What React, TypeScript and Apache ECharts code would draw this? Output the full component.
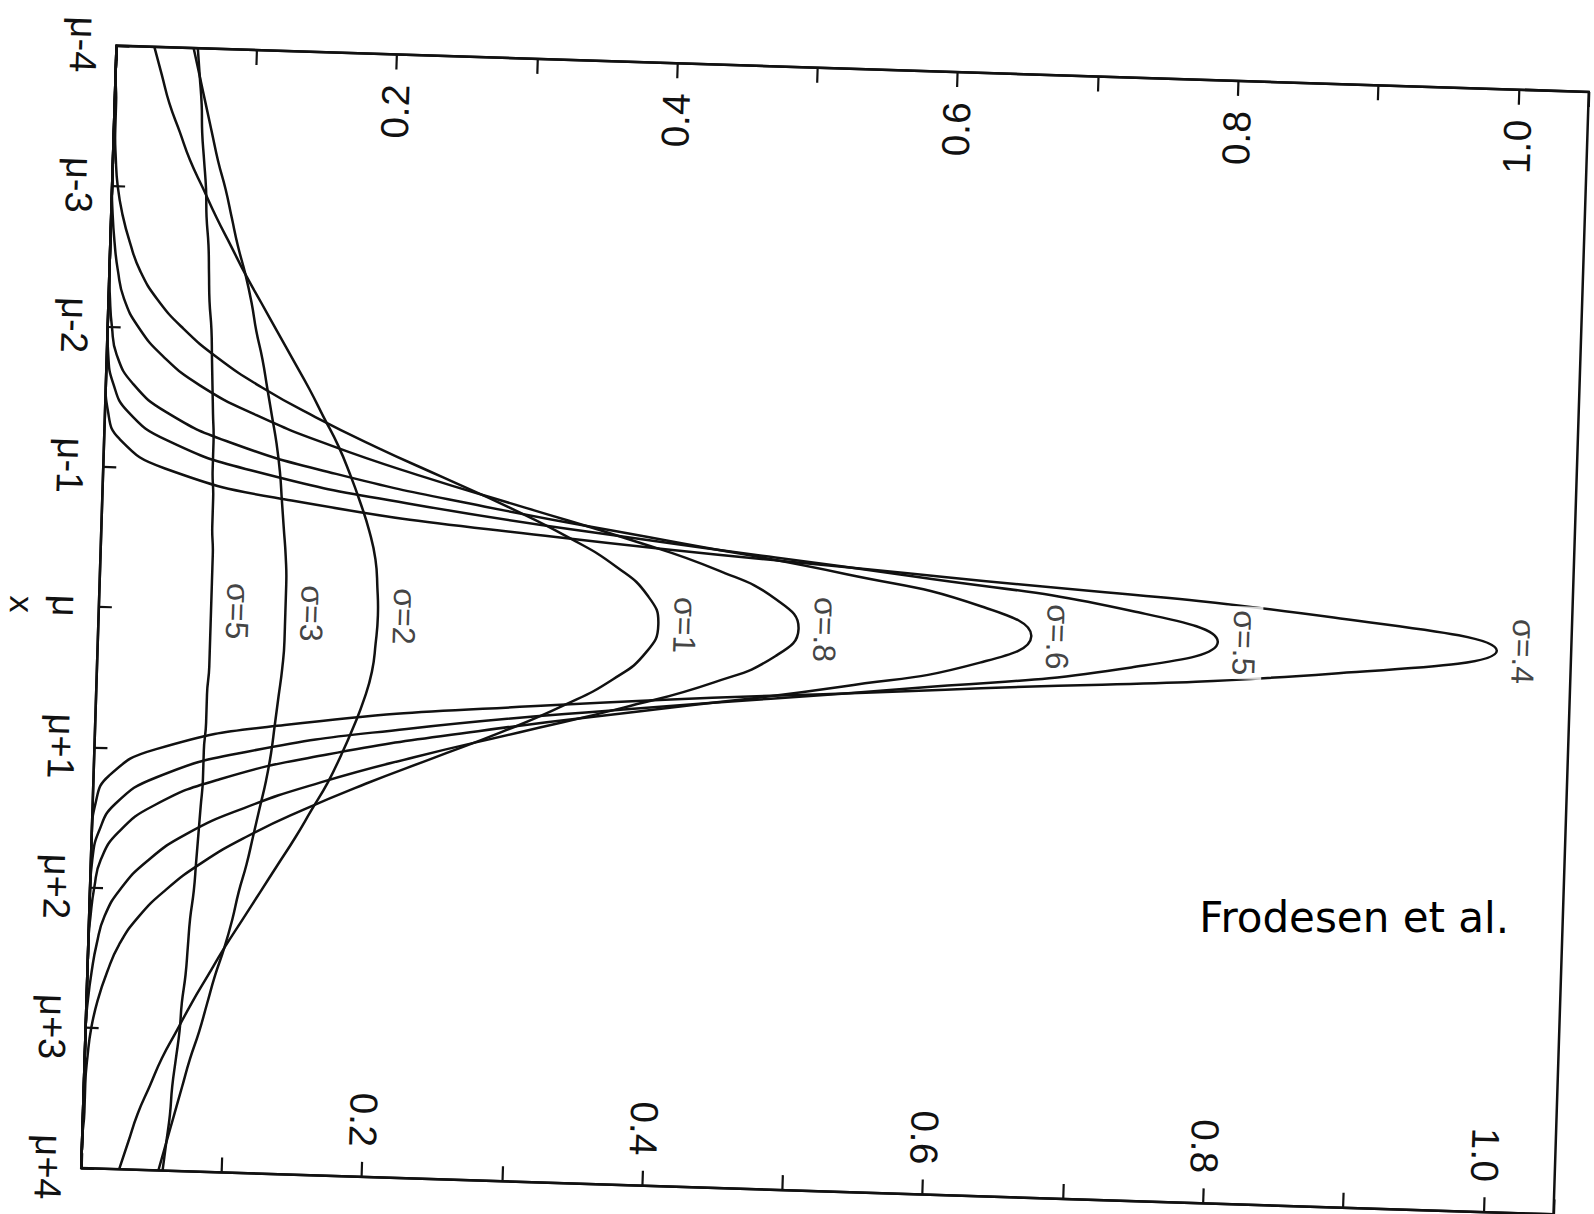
import { useEffect, useRef } from "react";
import * as echarts from "echarts";

// Abscissa positions (in units of sigma-free x, centred on μ)
const xGrid = [
  -4.0, -3.8, -3.6, -3.4, -3.2, -3.0, -2.8, -2.6, -2.4, -2.2, -2.0, -1.8, -1.6, -1.4, -1.2, -1.0, -0.8, -0.6, -0.4, -0.2,
  0.0,
  0.2, 0.4, 0.6, 0.8, 1.0, 1.2, 1.4, 1.6, 1.8, 2.0, 2.2, 2.4, 2.6, 2.8, 3.0, 3.2, 3.4, 3.6, 3.8, 4.0,
];

// Normal density values for each σ, read along xGrid
const densS04 = [
  0, 0, 0, 0, 0, 0, 0, 0, 0, 0, 0, 0, 0, 0.002, 0.011, 0.044, 0.135, 0.324, 0.605, 0.88,
  0.997,
  0.88, 0.605, 0.324, 0.135, 0.044, 0.011, 0.002, 0, 0, 0, 0, 0, 0, 0, 0, 0, 0, 0, 0, 0,
];
const densS05 = [
  0, 0, 0, 0, 0, 0, 0, 0, 0, 0, 0, 0.001, 0.005, 0.016, 0.045, 0.108, 0.222, 0.388, 0.579, 0.737,
  0.798,
  0.737, 0.579, 0.388, 0.222, 0.108, 0.045, 0.016, 0.005, 0.001, 0, 0, 0, 0, 0, 0, 0, 0, 0, 0, 0,
];
const densS06 = [
  0, 0, 0, 0, 0, 0, 0, 0, 0, 0.001, 0.003, 0.007, 0.019, 0.044, 0.09, 0.166, 0.273, 0.403, 0.532, 0.629,
  0.665,
  0.629, 0.532, 0.403, 0.273, 0.166, 0.09, 0.044, 0.019, 0.007, 0.003, 0.001, 0, 0, 0, 0, 0, 0, 0, 0, 0,
];
const densS08 = [
  0, 0, 0, 0, 0, 0, 0.001, 0.003, 0.006, 0.011, 0.022, 0.04, 0.067, 0.108, 0.162, 0.228, 0.302, 0.376, 0.44, 0.483,
  0.499,
  0.483, 0.44, 0.376, 0.302, 0.228, 0.162, 0.108, 0.067, 0.04, 0.022, 0.011, 0.006, 0.003, 0.001, 0, 0, 0, 0, 0, 0,
];
const densS1 = [
  0, 0, 0.001, 0.001, 0.002, 0.004, 0.008, 0.014, 0.022, 0.035, 0.054, 0.079, 0.111, 0.15, 0.194, 0.242, 0.29, 0.333, 0.368, 0.391,
  0.399,
  0.391, 0.368, 0.333, 0.29, 0.242, 0.194, 0.15, 0.111, 0.079, 0.054, 0.035, 0.022, 0.014, 0.008, 0.004, 0.002, 0.001, 0.001, 0, 0,
];
const densS2 = [
  0.027, 0.033, 0.039, 0.047, 0.055, 0.065, 0.075, 0.086, 0.097, 0.109, 0.121, 0.133, 0.145, 0.156, 0.167, 0.176, 0.184, 0.191, 0.196, 0.198,
  0.199,
  0.198, 0.196, 0.191, 0.184, 0.176, 0.167, 0.156, 0.145, 0.133, 0.121, 0.109, 0.097, 0.086, 0.075, 0.065, 0.055, 0.047, 0.039, 0.033, 0.027,
];
const densS3 = [
  0.055, 0.06, 0.065, 0.07, 0.075, 0.081, 0.086, 0.091, 0.097, 0.102, 0.106, 0.111, 0.115, 0.119, 0.123, 0.126, 0.128, 0.13, 0.132, 0.133,
  0.133,
  0.133, 0.132, 0.13, 0.128, 0.126, 0.123, 0.119, 0.115, 0.111, 0.106, 0.102, 0.097, 0.091, 0.086, 0.081, 0.075, 0.07, 0.065, 0.06, 0.055,
];
const densS5 = [
  0.058, 0.06, 0.062, 0.063, 0.065, 0.067, 0.068, 0.07, 0.071, 0.072, 0.074, 0.075, 0.076, 0.077, 0.078, 0.078, 0.079, 0.079, 0.08, 0.08,
  0.08,
  0.08, 0.08, 0.079, 0.079, 0.078, 0.078, 0.077, 0.076, 0.075, 0.074, 0.072, 0.071, 0.07, 0.068, 0.067, 0.065, 0.063, 0.062, 0.06, 0.058,
];

const sigmaLabels = ["σ=.4", "σ=.5", "σ=.6", "σ=.8", "σ=1", "σ=2", "σ=3", "σ=5"];
const curves = [densS04, densS05, densS06, densS08, densS1, densS2, densS3, densS5];

// Tick labels
const xTickLabels = ["μ-4", "μ-3", "μ-2", "μ-1", "μ", "μ+1", "μ+2", "μ+3", "μ+4"];
const densityTickLabels = ["0.2", "0.4", "0.6", "0.8", "1.0"];

const INK = "#111";
const FONT = "Liberation Sans";

// The printed figure sits slightly askew on the page
const TILT_DEG = 1.8;
const PAGE_W = 1594;
const PAGE_H = 1214;
// The drawing surface is larger than the page so nothing is clipped before tilting
const PAD = 60;
const CENTER_X = 835;
const CENTER_Y = 630;
const FRAME_W = 1473;
const FRAME_H = 1123;

function densityLabel(v: number): string {
  const s = v.toFixed(1);
  return densityTickLabels.includes(s) && Math.abs(v - parseFloat(s)) < 1e-6 ? s : "";
}

function densityAxis(position: "top" | "bottom") {
  return {
    type: "value",
    position,
    min: 0,
    max: 1.05,
    interval: 0.1,
    axisLine: { show: true, onZero: false, lineStyle: { color: INK, width: 2.5 } },
    axisTick: { show: true, inside: true, length: 15, lineStyle: { color: INK, width: 2.2 } },
    axisLabel: {
      show: true,
      inside: true,
      rotate: -90,
      margin: 30,
      fontSize: 39,
      fontFamily: FONT,
      color: INK,
      formatter: densityLabel,
    },
    splitLine: { show: false },
  };
}

export default function App() {
  const ref = useRef<HTMLDivElement>(null);

  useEffect(() => {
    if (!ref.current) return;
    const chart = echarts.init(ref.current, undefined, { renderer: "svg" });
    const mid = xGrid.indexOf(0);

    const lineSeries = curves.map((c, k) => ({
      type: "line",
      name: sigmaLabels[k],
      xAxisIndex: 0,
      yAxisIndex: 0,
      smooth: true,
      showSymbol: false,
      symbol: "none",
      z: 2,
      lineStyle: { color: INK, width: 2.5 },
      data: xGrid.map((x, i) => [c[i], x]),
    }));

    // Tilt compensation for the horizontally set credit line
    const tilt = (TILT_DEG * Math.PI) / 180;

    chart.setOption({
      animation: false,
      backgroundColor: "#fff",
      grid: {
        left: PAD + CENTER_X - FRAME_W / 2,
        top: PAD + CENTER_Y - FRAME_H / 2,
        width: FRAME_W,
        height: FRAME_H,
        show: true,
        borderColor: INK,
        borderWidth: 2.5,
        containLabel: false,
        outerBoundsMode: "none",
      },
      xAxis: [densityAxis("top"), densityAxis("bottom")],
      yAxis: [
        {
          type: "value",
          position: "left",
          min: -4,
          max: 4,
          interval: 1,
          inverse: true,
          name: "x",
          nameLocation: "middle",
          nameGap: 52,
          nameRotate: -90,
          nameTextStyle: { fontSize: 34, fontFamily: FONT, color: INK },
          axisLine: { show: true, onZero: false, lineStyle: { color: INK, width: 2.5 } },
          axisTick: { show: true, inside: true, length: 13, lineStyle: { color: INK, width: 2.2 } },
          axisLabel: {
            rotate: -90,
            margin: 14,
            fontSize: 38,
            fontFamily: FONT,
            color: INK,
            formatter: (v: number) => xTickLabels[Math.round(v) + 4] ?? "",
          },
          splitLine: { show: false },
        },
      ],
      series: [
        ...lineSeries,
        {
          type: "scatter",
          name: "σ labels",
          xAxisIndex: 0,
          yAxisIndex: 0,
          z: 5,
          silent: true,
          symbol: "circle",
          symbolSize: 1,
          itemStyle: { color: "rgba(0,0,0,0)" },
          data: curves.map((c, k) => ({ name: sigmaLabels[k], value: [c[mid], xGrid[mid]] })),
          label: {
            show: true,
            position: "right",
            distance: 8,
            rotate: -90,
            align: "center",
            verticalAlign: "bottom",
            formatter: "{b}",
            fontSize: 32,
            fontFamily: FONT,
            color: INK,
            backgroundColor: "#fff",
            padding: [2, 4, 2, 4],
          },
        },
      ],
      graphic: [
        {
          type: "text",
          x: PAD + 1363,
          y: PAD + 901.5,
          rotation: tilt,
          style: {
            text: "Frodesen et al.",
            fontSize: 42,
            fontFamily: "DejaVu Sans",
            fill: "#000",
            align: "center",
            verticalAlign: "middle",
          },
        },
      ],
    });

    return () => chart.dispose();
  }, []);

  return (
    <div
      style={{
        position: "absolute",
        left: 0,
        top: 0,
        width: PAGE_W,
        height: PAGE_H,
        overflow: "hidden",
        background: "#fff",
      }}
    >
      <div
        ref={ref}
        style={{
          position: "absolute",
          left: -PAD,
          top: -PAD,
          width: PAGE_W + 2 * PAD,
          height: PAGE_H + 2 * PAD,
          transform: `rotate(${TILT_DEG}deg)`,
          transformOrigin: `${PAD + CENTER_X}px ${PAD + CENTER_Y}px`,
        }}
      />
    </div>
  );
}
